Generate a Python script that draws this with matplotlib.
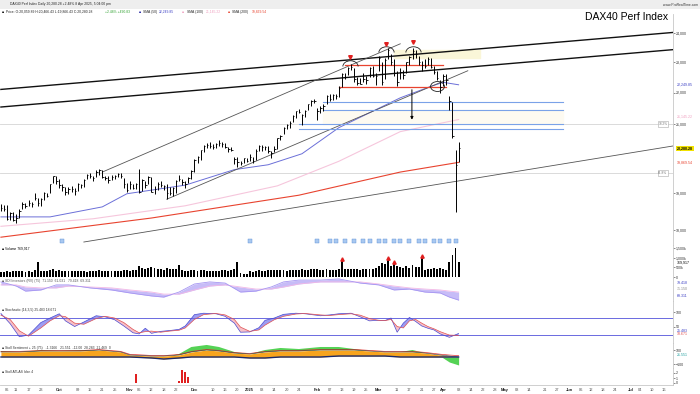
import numpy as np
import pandas as pd
import matplotlib
matplotlib.use("Agg", force=True)
import matplotlib.pyplot as plt
from matplotlib.path import Path
from matplotlib.markers import MarkerStyle
from matplotlib.transforms import Affine2D, blended_transform_factory
from matplotlib.ticker import FixedLocator, FuncFormatter, NullLocator

plt.rcParams['font.family'] = ['Liberation Sans', 'DejaVu Sans']

# ---------------- trading calendar ----------------
holidays = ["2024-12-24", "2024-12-25", "2024-12-26", "2024-12-31", "2025-01-01",
            "2025-04-18", "2025-04-21", "2025-05-01", "2025-06-09"]
sessions = pd.bdate_range("2024-09-04", "2025-07-31", freq="C", holidays=holidays)

# ---------------- daily price bars (Sep 4 2024 -> Apr 8 2025) ----------------
high = [18700, 18680, 18680, 18480, 18490, 18420, 18560, 18740, 18720, 18800,
        18760, 19010, 18850, 18870, 19030, 19000, 19260, 19490, 19480,
        19390, 19250, 19180, 19180, 19200, 19140, 19280, 19260, 19400, 19530,
        19560, 19480, 19640, 19675, 19650, 19480, 19470, 19500, 19510, 19560,
        19570, 19420, 19280,
        19330, 19260, 19280, 19680, 19390, 19330, 19490, 19450, 19200, 19310,
        19330, 19230, 19240, 19180, 19180, 19360, 19520, 19400, 19340, 19460, 19640,
        19960, 20040, 20240, 20380, 20430, 20460, 20420, 20440, 20520, 20460,
        20440, 20310, 20330, 20030, 20030, 19900, 20010, 19990,
        20120, 20030, 20260, 20380, 20380, 20340, 20360, 20200, 20360, 20600,
        20690, 20920, 21020, 21100, 21290, 21420, 21470, 21330, 21450, 21650,
        21760, 21800,
        21500, 21580, 21620, 21930, 21940, 21950, 21960, 22200, 22640, 22620,
        22830, 22930, 22800, 22500, 22460, 22620, 22550, 22830, 22880, 22620,
        23220, 23000, 23150, 23480, 23280, 23100, 22700, 22800, 22750, 23000,
        23200, 23476, 23420, 23200, 23050, 23100, 23180, 23130, 22860, 22700, 22400,
        22600, 22600, 21900, 21700, 20220, 20466]
low = [18520, 18520, 18280, 18270, 18230, 18200, 18330, 18560, 18600, 18640,
       18620, 18800, 18650, 18640, 18810, 18890, 19000, 19280, 19250,
       19130, 19050, 18950, 18960, 19030, 18950, 19060, 19130, 19170, 19380,
       19420, 19330, 19440, 19520, 19420, 19360, 19280, 19370, 19390, 19440,
       19430, 19150, 19030,
       19110, 19100, 19110, 19000, 19050, 19150, 19250, 19030, 18980, 19090,
       19180, 19080, 18830, 18950, 18920, 18990, 19330, 19220, 19130, 19280, 19400,
       19580, 19850, 19950, 20160, 20300, 20300, 20250, 20290, 20350, 20330,
       20280, 20180, 20200, 19820, 19740, 19780, 19850, 19870,
       19900, 19850, 19950, 20200, 20200, 20230, 20150, 20010, 20180, 20270,
       20540, 20700, 20870, 20900, 21080, 21200, 21360, 20990, 21220, 21450,
       21560, 21680,
       21130, 21350, 21400, 21620, 21740, 21760, 21800, 21850, 22180, 22450,
       22570, 22730, 22350, 22230, 22260, 22340, 22280, 22500, 22500, 22230,
       22700, 22230, 22450, 23100, 22900, 22540, 22220, 22440, 22450, 22650,
       22900, 23100, 23150, 22900, 22700, 22800, 22900, 22800, 22600, 22400, 21990,
       22200, 22230, 21460, 20580, 18490, 19866]
close = [18591, 18576, 18301, 18443, 18266, 18330, 18518, 18699, 18633, 18726,
         18711, 18872, 18720, 18847, 18996, 18918, 19238, 19474, 19325,
         19213, 19164, 19015, 19121, 19104, 19066, 19254, 19211, 19373, 19508,
         19486, 19432, 19583, 19657, 19461, 19421, 19377, 19443, 19464, 19532,
         19479, 19257, 19078,
         19255, 19149, 19256, 19039, 19362, 19216, 19448, 19034, 19122, 19264,
         19211, 19189, 18988, 19005, 19146, 19323, 19406, 19296, 19262, 19426, 19626,
         19934, 20017, 20232, 20359, 20385, 20346, 20329, 20399, 20427, 20406,
         20314, 20247, 20243, 19970, 19885, 19848, 19984, 19909,
         20025, 19906, 20216, 20340, 20330, 20317, 20215, 20133, 20271, 20575,
         20655, 20903, 20990, 21042, 21254, 21411, 21394, 21282, 21430, 21637,
         21727, 21732,
         21428, 21505, 21586, 21902, 21787, 21910, 21899, 22148, 22612, 22514,
         22798, 22844, 22434, 22315, 22288, 22426, 22410, 22794, 22551, 22551,
         23147, 22327, 23081, 23419, 23009, 22621, 22329, 22676, 22567, 22987,
         23154, 23381, 23288, 22999, 22892, 22852, 23109, 22839, 22679, 22461, 22163,
         22539, 22390, 21717, 20642, 19790, 20280]

# volume in thousands
volume = [260, 250, 300, 280, 290, 310, 300, 330, 270, 290, 280, 380,
          780, 300, 290, 310, 380, 400, 330,
          340, 320, 300, 310, 290, 330, 320, 300, 310, 280, 300, 330, 310, 340,
          300, 290, 310, 300, 290, 320, 330, 340, 360,
          330, 340, 380, 560, 480, 420, 450, 500, 460, 430, 400, 380, 460, 420,
          400, 430, 620, 340, 300, 320, 380,
          360, 330, 350, 340, 320, 330, 300, 310, 330, 340, 350, 330, 340, 420,
          780, 200, 150, 160,
          300, 280, 320, 340, 330, 320, 350, 360, 340, 380, 350, 370, 330, 340,
          360, 380, 350, 420, 360, 380, 400, 390,
          420, 380, 360, 390, 370, 380, 360, 420, 850, 430, 400, 420, 430, 400,
          380, 390, 410, 430, 420, 440,
          560, 720, 680, 900, 560, 700, 560, 500, 480, 560, 480, 600, 500, 520,
          1000, 380, 400, 430, 450, 400, 480,
          420, 380, 750, 1150, 1500, 770]
vol_flags = [111, 126, 128, 137]

# moving averages, read at sampled sessions
sma50_idx = [0, 16, 33, 41, 60, 76, 87, 98, 110, 120, 130, 140, 144, 149]
sma50_val = [18350, 18350, 18620, 18980, 19220, 19660, 19800, 20120, 20900,
             21360, 21830, 22200, 22330, 22250]
sma100_idx = [0, 30, 60, 90, 110, 130, 149]
sma100_val = [18100, 18300, 18650, 19200, 19900, 20780, 21150]
sma200_idx = [0, 49, 97, 130, 149]
sma200_val = [17815, 18320, 18940, 19590, 19869]

# trendlines: (idx0, price0, idx1, price1)
thick_lines = [(0, 22100, 218.8, 24015), (0, 21540, 218.8, 23420)]
thin_lines = [(33, 19590, 130, 23620), (54, 18830, 152, 22710), (27, 17690, 218.8, 20350)]
fib_levels = [21015, 19560]
fib_labels = ["38.2%", "61.8%"]
red_levels = [(110, 145, 22180), (112, 144, 22890)]
blue_levels = [(105, 183, 21700), (105, 183, 21450), (97, 183, 21015), (97, 183, 20860)]
peak_idx = [113.6, 125.5, 134.2]
peak_arc = [22870, 23340, 23340]
peak_flag = [23170, 23620, 23690]
event_idx = [20, 81, 103, 107, 109, 112, 115, 118, 120, 123, 125, 128, 130, 133,
             136, 138, 141, 143, 146, 148]

# RSI-type panel
rsi_idx = [0, 5, 8, 13, 18, 22, 29, 36, 42, 49, 53, 58, 63, 68, 73, 78, 83, 88,
           92, 97, 104, 110, 117, 123, 128, 133, 138, 143, 146, 149]
rsi_line = [83, 65, 43, 48, 70, 70, 57, 48, 35, 22, 17, 39, 74, 83, 78, 39, 43,
            61, 83, 91, 91, 96, 78, 70, 48, 52, 39, 35, 17, 4]
rsi_avg = [70, 70, 61, 57, 57, 65, 61, 57, 48, 39, 30, 30, 48, 65, 70, 61, 52,
           52, 61, 74, 83, 83, 83, 74, 65, 57, 52, 48, 43, 39]

# stochastic
sto_idx = [0, 3, 6, 9, 13, 16, 19, 21, 24, 27, 31, 34, 37, 40, 43, 45, 47, 49,
           52, 55, 58, 60, 63, 66, 70, 73, 76, 78, 81, 84, 86, 89, 92, 96, 99,
           104, 107, 110, 114, 117, 120, 123, 125, 127, 129, 131, 133, 135, 137,
           139, 141, 143, 146, 149]
sto_k = [96, 60, 14, 20, 64, 80, 95, 70, 50, 66, 88, 84, 74, 52, 28, 24, 44, 26,
         33, 36, 40, 52, 92, 97, 95, 86, 62, 30, 31, 46, 72, 80, 93, 97, 95,
         88, 91, 95, 97, 84, 70, 72, 71, 80, 30, 62, 82, 68, 52, 44, 38, 24, 12, 25.5]
sto_d = [90, 75, 35, 16, 45, 70, 88, 85, 62, 58, 78, 86, 80, 64, 40, 28, 32, 34,
         30, 34, 37, 45, 75, 92, 96, 91, 75, 48, 33, 38, 55, 74, 86, 94, 96,
         91, 89, 92, 95, 90, 78, 72, 71, 75, 50, 45, 70, 75, 62, 50, 42, 32, 20, 18.7]

# sentiment panel
sen_idx = [0, 6, 13, 19, 26, 32, 39, 42, 49, 53, 58, 62, 67, 71, 76, 81, 86, 91,
           97, 104, 110, 115, 120, 125, 130, 134, 138, 143, 146, 149]
sen_green = [86, 72, 100, 86, 100, 100, 72, 29, 14, 0, 43, 143, 172, 143, 72, 43,
             100, 129, 114, 143, 143, 114, 86, 72, 72, 100, 57, 14, -72, -114]
sen_orange = [72, 72, 86, 86, 86, 100, 72, 29, 14, 14, 29, 72, 100, 86, 57, 43,
              72, 86, 86, 100, 100, 100, 86, 72, 72, 72, 57, 29, 14, 0]
sen_navy = [0, 0, 0, 0, 0, 0, 0, 0, -14, -29, -14, 0, 0, 0, 0, -14, -14, 0, 0,
            0, 14, 14, 14, 14, 0, 0, 0, 0, 0, 0]
sen_red = [80, 80, 92, 92, 92, 106, 80, 38, 22, 20, 36, 80, 108, 94, 64, 50, 80,
           94, 94, 108, 108, 108, 94, 80, 80, 80, 66, 40, 28, 20]

# bottom histogram
hist_idx = [44, 58, 59, 60, 61]
hist_val = [1.8, 0.4, 2.6, 2.3, 1.2]

# x tick labels
tick_dates = ["2024-09-06", "2024-09-11", "2024-09-17", "2024-09-23", "2024-10-01",
              "2024-10-09", "2024-10-15", "2024-10-21", "2024-10-25", "2024-11-01",
              "2024-11-06", "2024-11-12", "2024-11-18", "2024-11-22", "2024-12-02",
              "2024-12-10", "2024-12-16", "2024-12-20", "2025-01-02", "2025-01-08",
              "2025-01-14", "2025-01-20", "2025-01-24", "2025-02-03", "2025-02-07",
              "2025-02-13", "2025-02-19", "2025-02-25", "2025-03-03", "2025-03-11",
              "2025-03-17", "2025-03-21", "2025-03-27", "2025-04-01", "2025-04-08",
              "2025-04-14", "2025-04-22", "2025-04-28", "2025-05-02", "2025-05-08",
              "2025-05-14", "2025-05-21", "2025-05-27", "2025-06-02", "2025-06-06",
              "2025-06-12", "2025-06-18", "2025-06-24", "2025-07-01", "2025-07-04",
              "2025-07-10", "2025-07-16"]
tick_text = ["06", "11", "17", "23", "Oct", "09", "15", "21", "25", "Nov", "06", "12",
             "18", "22", "Dec", "10", "16", "20", "2025", "08", "14", "20", "24", "Feb",
             "07", "13", "19", "25", "Mar", "11", "17", "21", "27", "Apr", "08", "14",
             "22", "28", "May", "08", "14", "21", "27", "Jun", "06", "12", "18", "24",
             "Jul", "04", "10", "16"]
month_names = {"Oct", "Nov", "Dec", "2025", "Feb", "Mar", "Apr", "May", "Jun", "Jul"}

# ---------------- figure ----------------
W, H = 700, 394
fig = plt.figure(figsize=(7.0, 3.94), dpi=100)
fig.patch.set_facecolor("white")
XR = 673 / W
XLIM = (-0.3, 218.8)
FS = 2.6
GRID = "#c8c8c8"


def panel(top, bottom):
    ax = fig.add_axes([0, 1 - bottom / H, XR, (bottom - top) / H])
    ax.set_xlim(*XLIM)
    ax.set_xticks([])
    ax.yaxis.tick_right()
    ax.tick_params(axis="y", labelsize=FS, length=1.2, width=0.4, pad=1, colors="#333333")
    for s in ["left", "top"]:
        ax.spines[s].set_visible(False)
    for s in ["right", "bottom"]:
        ax.spines[s].set_color(GRID)
        ax.spines[s].set_linewidth(0.6)
    return ax


def side_label(ax, y, txt, color, yellow=False, frac=False):
    tr = ax.transAxes if frac else blended_transform_factory(ax.transAxes, ax.transData)
    kw = dict(fontsize=FS, color=color, va="center", ha="left", transform=tr, clip_on=False)
    if yellow:
        kw["bbox"] = dict(boxstyle="square,pad=0.15", fc="#f2e200", ec="none")
        kw["fontweight"] = "bold"
    ax.text(1.006, y, txt, **kw)


x = np.arange(len(close))
ones = blended_transform_factory

# ---- price panel ----
ax = panel(14, 245)
ax.set_yscale("log")
ax.set_ylim(17613, 24670)
ax.yaxis.set_major_locator(FixedLocator([18000, 19000, 21000, 22000, 23000, 24000]))
ax.yaxis.set_minor_locator(NullLocator())
ax.yaxis.set_major_formatter(FuncFormatter(lambda v, p: f"{v:,.0f}"))

for lv, lab in zip(fib_levels, fib_labels):
    ax.axhline(lv, color="#d4d4d4", lw=0.6, zorder=1)
    ax.text(0.985, lv, lab, transform=ones(ax.transAxes, ax.transData), fontsize=2.3,
            color="#777777", ha="center", va="center",
            bbox=dict(boxstyle="square,pad=0.25", fc="white", ec="#aaaaaa", lw=0.4))

ax.plot(sma200_idx, sma200_val, color="#e8432f", lw=0.8, zorder=2)
ax.plot(sma100_idx, sma100_val, color="#f6c6dc", lw=0.8, zorder=2)
ax.plot(sma50_idx, sma50_val, color="#6b6fd8", lw=0.7, zorder=2)

for x0, p0, x1, p1 in thick_lines:
    ax.plot([x0, x1], [p0, p1], color="#111111", lw=1.0, zorder=3)
for x0, p0, x1, p1 in thin_lines:
    ax.plot([x0, x1], [p0, p1], color="#555555", lw=0.6, zorder=3)

for x0, x1, lv in blue_levels:
    ax.plot([x0, x1], [lv, lv], color="#7aa2e8", lw=0.8, zorder=3)
ax.fill_between([105, 183], 21450, 21015, color="#fdfaf1", zorder=1)
ax.fill_between([128, 156], 23150, 23420, color="#faf6d8", zorder=1)
for x0, x1, lv in red_levels:
    ax.plot([x0, x1], [lv, lv], color="#e8432f", lw=0.9, zorder=3)

ax.vlines(x, low, high, color="black", lw=0.7, zorder=4)
ax.hlines(close, x, x + 0.45, color="black", lw=0.6, zorder=4)

# head and shoulders marks
arc_path = Path.arc(0, 180).transformed(Affine2D().scale(1.0, 0.75))
ax.plot(peak_idx, peak_arc, ls="none", marker=MarkerStyle(arc_path), ms=11,
        mfc="none", mec="#222222", mew=0.6, zorder=5)
ax.plot(peak_idx, peak_flag, ls="none", marker="v", ms=2.6, color="#e02020", zorder=5)
ring = Path.unit_circle().transformed(Affine2D().scale(1.4, 1.0))
ax.plot([142], [22200], ls="none", marker=MarkerStyle(ring), ms=10, mfc="none",
        mec="#222222", mew=0.6, zorder=5)
ax.annotate("", xy=(133.8, 21060), xytext=(133.8, 22180),
            arrowprops=dict(arrowstyle="-|>", color="black", lw=0.7, mutation_scale=4), zorder=5)

ax.plot(event_idx, [0.017] * len(event_idx), transform=ones(ax.transData, ax.transAxes),
        ls="none", marker="s", ms=2.2, mfc="#a9c8f0", mec="#5b8fd6", mew=0.3, clip_on=False)
ax.text(0.003, -0.01, "ProRealTime.com", transform=ax.transAxes, fontsize=2.4, color="#444444",
        va="center")

side_label(ax, 22249.85, "22,249.85", "#3b3fc4")
side_label(ax, 21230, "21,145.22", "#f0a0c0")
side_label(ax, 20280.28, "20,280.28", "black", yellow=True)
side_label(ax, 19869.54, "19,869.54", "#e8432f")

fig.text(668 / W, 1 - 17 / H, "DAX40 Perf Index", fontsize=7.5, ha="right", va="center")

# header
fig.patches.append(plt.Rectangle((0, 1 - 9 / H), 1, 9 / H, transform=fig.transFigure,
                                 fc="#eeeeee", ec="none"))
fig.text(10 / W, 1 - 4.5 / H, "DAX40 Perf Index Daily 20,280.28 +2.48% 8 Apr 2025, 5:04:00 pm",
         fontsize=2.4, va="center", color="#222222")
fig.text(698 / W, 1 - 4.5 / H, "www.ProRealTime.com", fontsize=2.4, va="center", ha="right",
         color="#333333")
legend_bits = [(1.5, "\u25a0", "black"),
               (6, "Price: O:20,059.89 H:20,466.43 L:19,866.43 C:20,280.28", "#222222"),
               (105, "+2.48% +490.83", "#2ea02e"),
               (139, "\u25a0", "#1a1aa0"), (143, "SMA (50)", "#222222"),
               (159, "22,249.85", "#3b3fc4"),
               (182, "\u25a0", "#f0a0c0"), (187, "SMA (100)", "#222222"),
               (206, "21,145.22", "#f0a0c0"),
               (228, "\u25a0", "#e8432f"), (232, "SMA (200)", "#222222"),
               (252, "19,869.54", "#e8432f")]
for px, txt, col in legend_bits:
    fig.text(px / W, 1 - 11.7 / H, txt, fontsize=2.4, va="center", color=col)

# ---- volume panel ----
av = panel(245, 278)
av.set_ylim(-51, 1650)
av.bar(x, volume, width=0.62, color="black")
av.plot(vol_flags, [volume[i] + 90 for i in vol_flags], ls="none", marker="^", ms=2.4,
        color="#e02020")
av.set_yticks([0, 500, 1000, 1500])
av.set_yticklabels(["0", "500k", "1,000k", "1,500k"])
side_label(av, 769.917, "769,917", "black")
av.text(0.003, 0.9, "\u25a0 Volume 769,917", transform=av.transAxes, fontsize=2.4, va="center")

# ---- RSI panel ----
ar = panel(278, 301)
ar.set_ylim(0, 100)
ar.set_yticks([])
ar.plot(rsi_idx, rsi_avg, color="#f2b8e6", lw=0.6)
ar.plot(rsi_idx, rsi_line, color="#a696f2", lw=0.6)
ar.fill_between(rsi_idx, rsi_line, rsi_avg, color="#b9acf5", alpha=0.8, lw=0)
ar.text(0.003, 0.88, "\u25a0 SDI Investors (RV) (75)  71.150  61.031   79.418  69.311",
        transform=ar.transAxes, fontsize=2.4, va="center", color="#555555")
side_label(ar, 0.8, "79.418", "#3b3fc4", frac=True)
side_label(ar, 0.5, "71.150", "#888888", frac=True)
side_label(ar, 0.22, "69.311", "#3b3fc4", frac=True)

# ---- stochastic panel ----
asx = panel(301, 343)
asx.set_ylim(-8, 140)
asx.set_yticks([50, 100])
asx.axhline(80, color="#6a6ae0", lw=0.7)
asx.axhline(20, color="#6a6ae0", lw=0.7)
asx.fill_between(sto_idx, sto_k, sto_d, where=np.array(sto_k) >= np.array(sto_d),
                 interpolate=True, color="#9d9df2", lw=0)
asx.fill_between(sto_idx, sto_k, sto_d, where=np.array(sto_k) < np.array(sto_d),
                 interpolate=True, color="#f6c0c8", lw=0)
asx.plot(sto_idx, sto_k, color="#4a4ad0", lw=0.5)
asx.plot(sto_idx, sto_d, color="#e05050", lw=0.5)
asx.text(0.003, 0.79, "\u25a0 Stochastic (14,3,5) 25.483 18.671", transform=asx.transAxes,
         fontsize=2.4, va="center", color="#333333")
side_label(asx, 33, "25.483", "#3b3fc4")
side_label(asx, 22, "18.671", "#e05050")

# ---- sentiment panel ----
ase = panel(343, 368)
ase.set_ylim(-157, 200)
ase.set_yticks([-100, 100])
g = np.array(sen_green)
o = np.array(sen_orange)
n = np.array(sen_navy)
ase.fill_between(sen_idx, n, o, color="#f7a41d", lw=0)
ase.fill_between(sen_idx, o, g, where=g >= o, interpolate=True, color="#55d255", lw=0)
ase.fill_between(sen_idx, n, g, where=g < n, interpolate=True, color="#55d255", lw=0)
ase.plot(sen_idx, sen_red, color="#e03030", lw=0.5)
ase.plot(sen_idx, o, color="#333333", lw=0.4)
ase.plot(sen_idx, n, color="#1a2a6c", lw=1.0)
ase.text(0.003, 0.8, "\u25a0 Stoll Sentiment + 25 (75)   -1.3166   21.551  -12.00  28.283  21.469  0",
         transform=ase.transAxes, fontsize=2.4, va="center", color="#333333")
side_label(ase, 30, "21.551", "#20a0a0")

# ---- bottom histogram ----
ah = panel(368, 385)
ah.set_ylim(-0.4, 3)
ah.set_yticks([0, 1, 2])
ah.bar(hist_idx, hist_val, width=0.75, color="#e02020")
ah.text(0.003, 0.75, "\u25a0 Stoll ATLAS Idsn 4", transform=ah.transAxes, fontsize=2.4,
        va="center", color="#333333")

# x labels
for d, t in zip(tick_dates, tick_text):
    i = sessions.get_loc(pd.Timestamp(d))
    bold = t in month_names
    ah.text(i, -0.32, t, transform=ones(ah.transData, ah.transAxes), fontsize=2.9,
            ha="center", va="center", color="#222222" if bold else "#555555",
            fontweight="bold" if bold else "normal")

fig.savefig("out.png", dpi=100)
